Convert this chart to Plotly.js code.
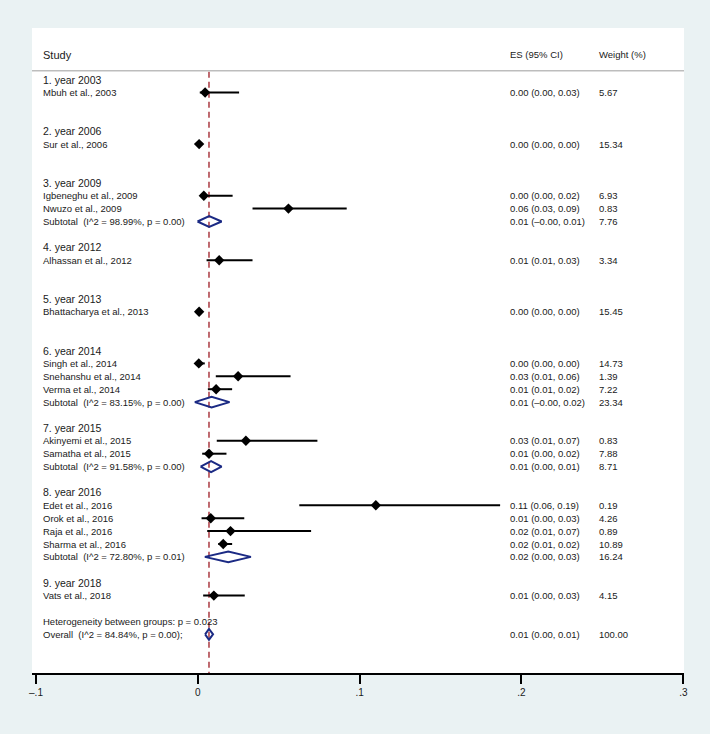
<!DOCTYPE html>
<html><head><meta charset="utf-8">
<script src="https://cdn.plot.ly/plotly-3.0.1.min.js"></script>
<style>body{margin:0;background:#eaf2f3}</style>
</head><body><div id="chart" style="width:710px;height:734px"></div>
<script>
// ---------------- DATA ----------------
const groupNames = ["1. year 2003","2. year 2006","3. year 2009","4. year 2012","5. year 2013","6. year 2014","7. year 2015","8. year 2016","9. year 2018"];
const groupSizes = [1,1,2,1,1,3,2,4,1];

const studyNames = ["Mbuh et al., 2003","Sur et al., 2006","Igbeneghu et al., 2009","Nwuzo et al., 2009","Alhassan et al., 2012","Bhattacharya et al., 2013","Singh et al., 2014","Snehanshu et al., 2014","Verma et al., 2014","Akinyemi et al., 2015","Samatha et al., 2015","Edet et al., 2016","Orok et al., 2016","Raja et al., 2016","Sharma et al., 2016","Vats et al., 2018"];
const studyES = [0.0045,0.0008,0.0037,0.0560,0.0132,0.0008,0.0006,0.0249,0.0113,0.0297,0.0069,0.1100,0.0080,0.0202,0.0157,0.0099];
const studyLo = [0.0012,0.0005,0.0015,0.0338,0.0054,0.0005,0.0003,0.0111,0.0062,0.0117,0.0027,0.0627,0.0023,0.0058,0.0126,0.0033];
const studyHi = [0.0255,0.0012,0.0215,0.0920,0.0338,0.0012,0.0043,0.0573,0.0212,0.0739,0.0177,0.1868,0.0287,0.0700,0.0212,0.0290];
const studyESText = ["0.00 (0.00, 0.03)","0.00 (0.00, 0.00)","0.00 (0.00, 0.02)","0.06 (0.03, 0.09)","0.01 (0.01, 0.03)","0.00 (0.00, 0.00)","0.00 (0.00, 0.00)","0.03 (0.01, 0.06)","0.01 (0.01, 0.02)","0.03 (0.01, 0.07)","0.01 (0.00, 0.02)","0.11 (0.06, 0.19)","0.01 (0.00, 0.03)","0.02 (0.01, 0.07)","0.02 (0.01, 0.02)","0.01 (0.00, 0.03)"];
const studyWeight = ["5.67","15.34","6.93","0.83","3.34","15.45","14.73","1.39","7.22","0.83","7.88","0.19","4.26","0.89","10.89","4.15"];

const subES = [0.0070,0.0085,0.0082,0.0188];
const subLo = [-0.0002,-0.0019,0.0017,0.0043];
const subHi = [0.0147,0.0196,0.0147,0.0328];
const subI2 = ["98.99%","83.15%","91.58%","72.80%"];
const subP = ["0.00","0.00","0.00","0.01"];
const subESText = ["0.01 (\u20130.00, 0.01)","0.01 (\u20130.00, 0.02)","0.01 (0.00, 0.01)","0.02 (0.00, 0.03)"];
const subWeight = ["7.76","23.34","8.71","16.24"];

const overallES = [0.0069];
const overallLo = [0.0045];
const overallHi = [0.0094];
const overallI2 = "84.84%";
const overallP = "0.00";
const overallESText = "0.01 (0.00, 0.01)";
const overallWeight = "100.00";
const hetP = "0.023";

const headerLabels = ["Study","ES (95% CI)","Weight (%)"];
const tickVals = [-0.1,0,0.1,0.2,0.3];
const tickText = ["\u2013.1","0",".1",".2",".3"];

// ---------------- LAYOUT OF ROWS ----------------
const NB = "\u00a0";
const COLX = [0.0169, 0.7331, 0.8696];
const FONT = "Liberation Sans, Arial, Helvetica, sans-serif";
const TXT = "#1a1a1a";
const annotations = [];
function addText(col, row, text, size) {
  annotations.push({xref:"paper", yref:"y", x:COLX[col], y:row, text:text, showarrow:false,
    xanchor:"left", yanchor:"middle", xshift:-2, font:{family:FONT, size:size, color:TXT}});
}

let row = 0, si = 0, subi = 0;
const studyRows = [], subRows = [];
groupNames.forEach((g, gi) => {
  addText(0, row, g, 10.5);
  row++;
  for (let k = 0; k < groupSizes[gi]; k++) {
    studyRows.push(row);
    addText(0, row, studyNames[si], 9.5);
    addText(1, row, studyESText[si], 9.5);
    addText(2, row, studyWeight[si], 9.5);
    si++; row++;
  }
  if (groupSizes[gi] > 1) {
    subRows.push(row);
    addText(0, row, "Subtotal" + NB + NB + "(I^2 = " + subI2[subi] + ", p = " + subP[subi] + ")", 9.5);
    addText(1, row, subESText[subi], 9.5);
    addText(2, row, subWeight[subi], 9.5);
    subi++;
  }
  row++;
  row++;
});
row--; // heterogeneity row
const hetRow = row;
addText(0, hetRow, "Heterogeneity between groups: p = " + hetP, 9.5);
const overallRow = hetRow + 1;
addText(0, overallRow, "Overall" + NB + NB + "(I^2 = " + overallI2 + ", p = " + overallP + ");", 9.5);
addText(1, overallRow, overallESText, 9.5);
addText(2, overallRow, overallWeight, 9.5);

// header
const headerRow = -1.91;
addText(0, headerRow, headerLabels[0], 11);
addText(1, headerRow, headerLabels[1], 9.5);
addText(2, headerRow, headerLabels[2], 9.5);

// ---------------- TRACES ----------------
const ciX = [], ciY = [];
studyRows.forEach((r, i) => { ciX.push(studyLo[i], studyHi[i], null); ciY.push(r, r, null); });

const H = 0.42;
const dX = [], dY = [];
function diamond(es, lo, hi, r) { dX.push(lo, es, hi, es, lo, null); dY.push(r, r - H, r, r + H, r, null); }
subRows.forEach((r, i) => diamond(subES[i], subLo[i], subHi[i], r));
diamond(overallES[0], overallLo[0], overallHi[0], overallRow);

const traces = [
  {x:[overallES[0], overallES[0]], y:[-0.6, 46], mode:"lines", line:{color:"#b0474e", width:1.6, dash:"6px,4px"}, hoverinfo:"skip"},
  {x:ciX, y:ciY, mode:"lines", line:{color:"#000", width:2}, hoverinfo:"skip"},
  {x:studyES, y:studyRows, mode:"markers", marker:{symbol:"diamond", size:8, color:"#000"}, hoverinfo:"skip"},
  {x:dX, y:dY, mode:"lines", line:{color:"#1b2a84", width:2}, hoverinfo:"skip"}
];

const layout = {
  width:710, height:734,
  margin:{l:32, r:26, t:28, b:61},
  paper_bgcolor:"#eaf2f3", plot_bgcolor:"#ffffff",
  showlegend:false,
  xaxis:{range:[-0.10247, 0.30043], tickvals:tickVals, ticktext:tickText, ticks:"outside", ticklen:9, tickwidth:2, tickcolor:"#000",
    showline:true, linecolor:"#000", linewidth:2, showgrid:false, zeroline:false, fixedrange:true,
    tickfont:{family:FONT, size:10, color:TXT}},
  yaxis:{range:[46, -4], visible:false, showgrid:false, zeroline:false, fixedrange:true},
  annotations:annotations,
  shapes:[{type:"line", xref:"paper", yref:"y", x0:0, x1:1, y0:-0.69, y1:-0.69, line:{color:"#bdbdbd", width:1.5}}]
};
Plotly.newPlot("chart", traces, layout, {displayModeBar:false, staticPlot:true});
</script></body></html>
